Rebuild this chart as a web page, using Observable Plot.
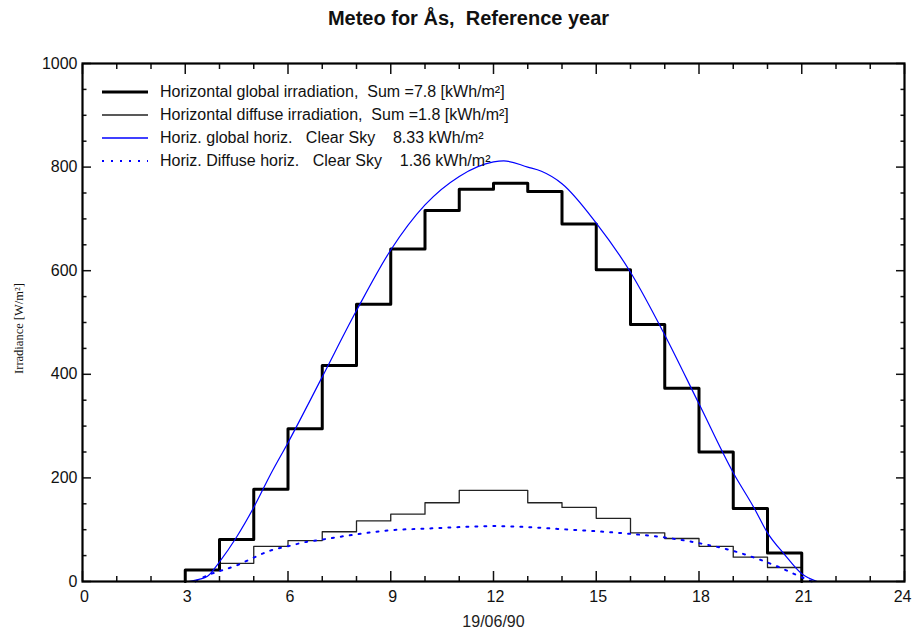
<!DOCTYPE html>
<html>
<head>
<meta charset="utf-8">
<script src="https://cdn.jsdelivr.net/npm/d3@7"></script>
<script src="https://cdn.jsdelivr.net/npm/@observablehq/plot@0.6"></script>
<style>
  body { margin: 0; background: #fff; }
  #wrap { position: relative; width: 912px; height: 630px; font-family: "Liberation Sans", Arial, sans-serif; }
  #wrap svg text { white-space: pre; }
  #legend { position: absolute; left: 102px; top: 80px; font-size: 16px; color: #111; }
  .row { display: flex; align-items: center; height: 23px; white-space: pre; }
  .row svg { width: 46px; height: 10px; margin-right: 12px; overflow: visible; }
</style>
</head>
<body>
<div id="wrap"><div id="legend"></div></div>
<script>
// ---- data ----
const title = "Meteo for Ås,  Reference year";
const xLabel = "19/06/90";
const yLabel = "Irradiance [W/m²]";
const xTickLabels = [0, 3, 6, 9, 12, 15, 18, 21];
const xLastLabel = [24];

// measured hourly steps (hour start -> W/m²)
const stepHours = [3, 4, 5, 6, 7, 8, 9, 10, 11, 12, 13, 14, 15, 16, 17, 18, 19, 20];
const globalMeas = [22, 81, 178, 295, 417, 535, 642, 716, 757, 769, 753, 690, 602, 496, 373, 250, 141, 55];
const diffuseMeas = [22, 35, 68, 79, 96, 117, 130, 152, 176, 176, 152, 143, 122, 94, 83, 68, 47, 27];
const stepEnd = 21;

// clear sky global
const csgHours = [3.1, 3.4, 3.65, 4.0, 4.5, 5.0, 5.5, 6.0, 7.0, 8.0, 9.0, 10.0, 11.0, 12.0, 12.3, 13.0, 13.4, 14.0, 15.0, 16.0, 17.0, 18.0, 19.0, 19.6, 20.0, 20.5, 21.0, 21.45];
const csgValues = [0, 4, 10, 38, 86, 143, 208, 268, 395, 523, 640, 727, 782, 810, 812, 800, 792, 768, 692, 597, 476, 343, 210, 143, 94, 52, 15, 0];

// clear sky diffuse
const csdHours = [3.3, 3.65, 4.0, 4.5, 4.9, 5.5, 6.0, 6.5, 7.0, 8.0, 9.0, 10.0, 11.0, 12.0, 13.0, 14.0, 15.0, 16.0, 17.0, 18.0, 19.0, 19.7, 20.4, 20.9, 21.3];
const csdValues = [0, 12, 20, 31, 43, 60, 68, 76, 81, 91, 99, 102, 105, 107, 105, 101, 97, 92, 85, 74, 59, 44, 26, 11, 0];

const legendItems = [
  {label: "Horizontal global irradiation,  Sum =7.8 [kWh/m²]", stroke: "#000", width: 3, dash: null},
  {label: "Horizontal diffuse irradiation,  Sum =1.8 [kWh/m²]", stroke: "#222", width: 1.3, dash: null},
  {label: "Horiz. global horiz.   Clear Sky    8.33 kWh/m²", stroke: "#0000ff", width: 1.3, dash: null},
  {label: "Horiz. Diffuse horiz.   Clear Sky    1.36 kWh/m²", stroke: "#0000ff", width: 2, dash: "2,7"}
];

// ---- build tables ----
function steps(values) {
  const t = [{h: stepHours[0], v: 0}];
  stepHours.forEach((h, i) => t.push({h, v: values[i]}));
  t.push({h: stepEnd, v: 0});
  return t;
}
const globalSteps = steps(globalMeas);
const diffuseSteps = steps(diffuseMeas);
const csGlobal = csgHours.map((h, i) => ({h, v: csgValues[i]}));
const csDiffuse = csdHours.map((h, i) => ({h, v: csdValues[i]}));

const xMajor = d3.range(0, 25, 3);
const xMinor = d3.range(0, 25, 1).filter(d => d % 3 !== 0);
const yMajor = d3.range(0, 1001, 200);
const yMinor = d3.range(0, 1001, 50).filter(d => d % 200 !== 0);
const blank = () => "";
const plain = d => String(d);
const tickStyle = {stroke: "#111", strokeWidth: 1.5, label: null, tickFormat: blank};

const chart = Plot.plot({
  width: 912,
  height: 630,
  marginLeft: 82,
  marginRight: 8,
  marginTop: 63,
  marginBottom: 49,
  style: {fontFamily: "'Liberation Sans', Arial, sans-serif", fontSize: "16px", color: "#111", background: "#fff", overflow: "visible"},
  x: {domain: [0, 24]},
  y: {domain: [0, 1000]},
  marks: [
    // tick labels
    Plot.axisX({ticks: xTickLabels, tickSize: 0, tickPadding: 9, label: null, dx: 2, tickFormat: plain}),
    Plot.axisX({ticks: xLastLabel, tickSize: 0, tickPadding: 9, label: null, dx: 7, textAnchor: "end", tickFormat: plain}),
    Plot.axisY({ticks: yMajor, tickSize: 0, tickPadding: 5, label: null, tickFormat: plain}),
    // inward ticks
    Plot.axisX({...tickStyle, ticks: xMajor, tickSize: -10, anchor: "bottom"}),
    Plot.axisX({...tickStyle, ticks: xMinor, tickSize: -5, anchor: "bottom"}),
    Plot.axisX({...tickStyle, ticks: xMajor, tickSize: -10, anchor: "top"}),
    Plot.axisX({...tickStyle, ticks: xMinor, tickSize: -5, anchor: "top"}),
    Plot.axisY({...tickStyle, ticks: yMajor, tickSize: -9, anchor: "left"}),
    Plot.axisY({...tickStyle, ticks: yMinor, tickSize: -4.5, anchor: "left"}),
    Plot.axisY({...tickStyle, ticks: yMajor, tickSize: -9, anchor: "right"}),
    Plot.axisY({...tickStyle, ticks: yMinor, tickSize: -4.5, anchor: "right"}),
    // data
    Plot.line(diffuseSteps, {x: "h", y: "v", curve: "step-after", stroke: "#222", strokeWidth: 1.3}),
    Plot.line(globalSteps, {x: "h", y: "v", curve: "step-after", stroke: "#000", strokeWidth: 3}),
    Plot.line(csDiffuse, {x: "h", y: "v", curve: "monotone-x", stroke: "#0000ff", strokeWidth: 2, strokeDasharray: "2,7"}),
    Plot.line(csGlobal, {x: "h", y: "v", curve: "monotone-x", stroke: "#0000ff", strokeWidth: 1.2}),
    Plot.frame({stroke: "#000", strokeWidth: 2.2}),
    // texts
    Plot.text([title], {frameAnchor: "top", dy: -53, dx: -25, fontWeight: "bold", fontSize: 20, fill: "#111"}),
    Plot.text([xLabel], {frameAnchor: "bottom", dy: 45, fontSize: 16, fill: "#222"}),
    Plot.text([yLabel], {frameAnchor: "left", dx: -64, dy: 6, rotate: -90, textAnchor: "middle", fontSize: 12.5, fontFamily: "'Liberation Serif', serif", fill: "#111"})
  ]
});
document.getElementById("wrap").prepend(chart);

// legend
const leg = d3.select("#legend");
legendItems.forEach(item => {
  const row = leg.append("div").attr("class", "row");
  const s = row.append("svg");
  s.append("line").attr("x1", 0).attr("x2", 46).attr("y1", 5).attr("y2", 5)
    .attr("stroke", item.stroke).attr("stroke-width", item.width)
    .attr("stroke-dasharray", item.dash);
  row.append("span").text(item.label);
});
</script>
</body>
</html>
